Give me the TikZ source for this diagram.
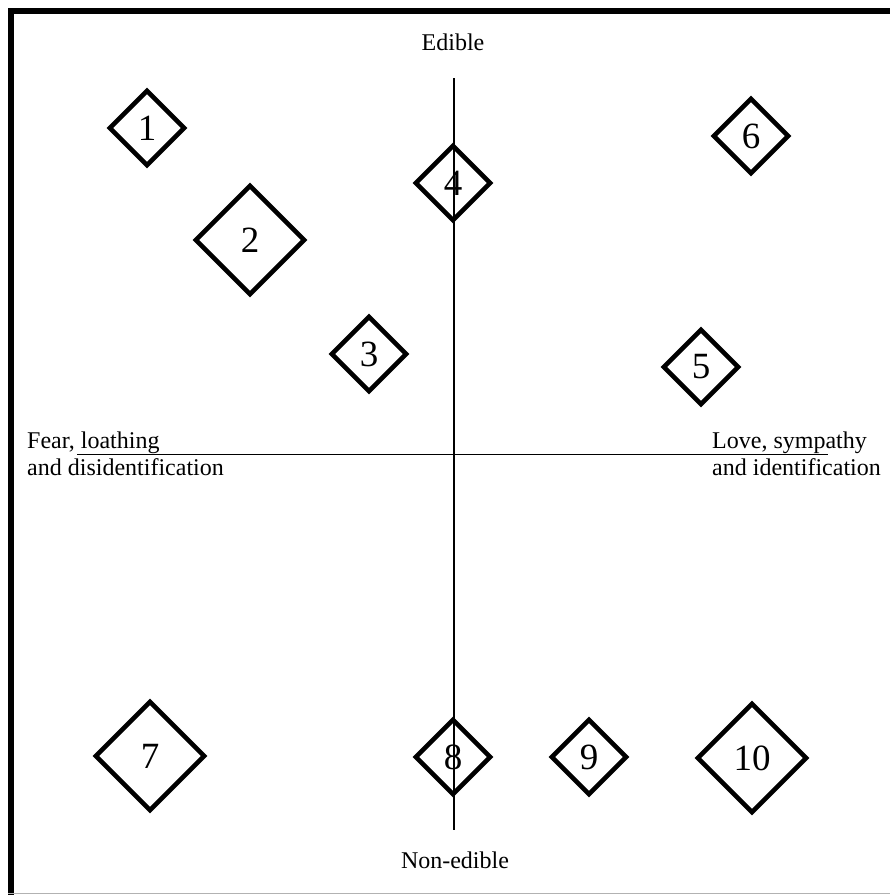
\documentclass[tikz,border=0pt]{standalone}
\usepackage{fontspec}
\setmainfont{Liberation Serif}
\usetikzlibrary{shapes.geometric}
\begin{document}
\begin{tikzpicture}[x=1pt,y=-1pt,
  cell/.style={draw,line width=4.6pt,shape=diamond,aspect=1,inner sep=0pt,
    font=\fontsize{37}{40}\selectfont},
  small/.style={cell,minimum size=76pt},
  big/.style={cell,minimum size=110pt},
  axis/.style={line width=1.4pt},
  lbl/.style={inner sep=0pt,font=\fontsize{24}{27}\selectfont}]
\useasboundingbox (0,0) rectangle (890,895);
% frame
\draw[line width=5.5pt] (890,10.75) -- (10.75,10.75) -- (10.75,895);
\draw[line width=1.5pt,black!30] (8,893.5) -- (890,893.5);
% axes end points
\coordinate (top) at (454,78);
\coordinate (bot) at (454,830);
\coordinate (lft) at (77,454.5);
\coordinate (rgt) at (828,454.5);
\draw[axis] (top) -- (bot);
\draw[axis] (lft) -- (rgt);
% axis labels
\node[lbl,anchor=base] (edible) at (453,50) {Edible};
\node[lbl,anchor=base] (nonedible) at (455,868) {Non-edible};
\node[lbl,anchor=base west,align=left] (fear) at (27,475) {Fear, loathing\\and disidentification};
\node[lbl,anchor=base west,align=left] (love) at (712,475) {Love, sympathy\\and identification};
% diamonds
\node[small] (d1) at (147,128) {1};
\node[big]   (d2) at (250,240) {2};
\node[small] (d3) at (369,354) {3};
\node[small] (d4) at (453,183) {4};
\node[small] (d5) at (701,367) {5};
\node[small] (d6) at (751,136) {6};
\node[big]   (d7) at (150,756) {7};
\node[small] (d8) at (453,757) {8};
\node[small] (d9) at (589,757) {9};
\node[big]   (d10) at (752,758) {10};
\end{tikzpicture}
\end{document}
